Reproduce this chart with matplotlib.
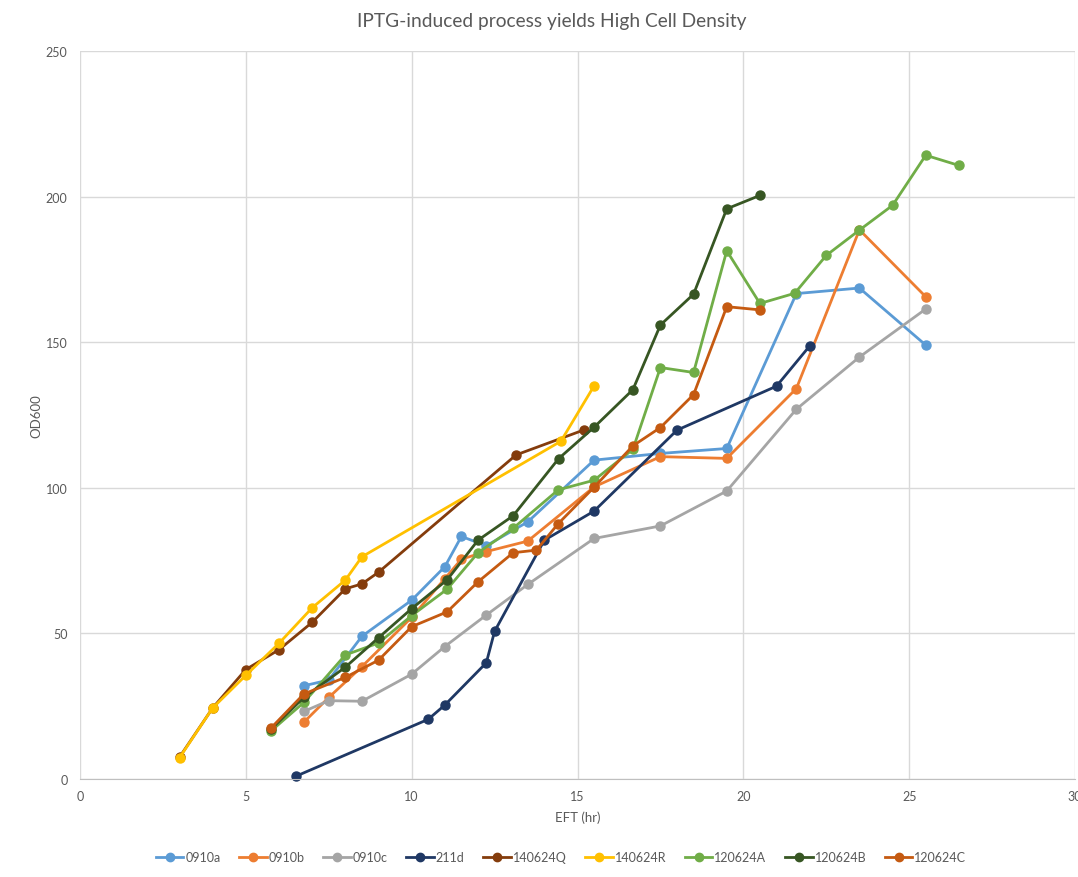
import matplotlib
matplotlib.use("Agg")
import matplotlib.pyplot as plt
from matplotlib.lines import Line2D

plt.rcParams['font.family'] = ['Lato', 'DejaVu Sans']

series_names = ["0910a", "0910b", "0910c", "211d", "140624Q", "140624R",
                "120624A", "120624B", "120624C"]
colors = ["#5B9BD5", "#ED7D31", "#A5A5A5", "#1F3864", "#843C0C", "#FFC000",
          "#70AD47", "#375623", "#C55A11"]

x_0910a = [6.75, 7.5, 8.5, 10, 11, 11.5, 12.25, 13.5, 15.5, 17.5, 19.5, 21.6, 23.5, 25.5]
y_0910a = [32.0, 34.0, 49.0, 61.4, 72.9, 83.3, 80.1, 88.3, 109.5, 111.8, 113.5, 166.7, 168.6, 149.0]

x_0910b = [6.75, 7.5, 8.5, 10, 11, 11.5, 12.25, 13.5, 15.5, 17.5, 19.5, 21.6, 23.5, 25.5]
y_0910b = [19.5, 28.0, 38.6, 55.5, 68.8, 75.5, 78.1, 81.7, 100.3, 110.7, 110.1, 134.1, 188.6, 165.6]

x_0910c = [6.75, 7.5, 8.5, 10, 11, 12.25, 13.5, 15.5, 17.5, 19.5, 21.6, 23.5, 25.5]
y_0910c = [23.2, 26.9, 26.7, 36.0, 45.5, 56.3, 66.8, 82.6, 86.9, 98.9, 127.0, 144.9, 161.4]

x_211d = [6.5, 10.5, 11, 12.25, 12.5, 14, 15.5, 18, 21, 22]
y_211d = [0.9, 20.5, 25.4, 39.9, 50.7, 82.0, 92.0, 119.8, 134.9, 148.7]

x_140624Q = [3, 4, 5, 6, 7, 8, 8.5, 9, 13.15, 15.2]
y_140624Q = [7.5, 24.4, 37.6, 44.4, 53.8, 65.3, 67.0, 71.0, 111.3, 119.9]

x_140624R = [3, 4, 5, 6, 7, 8, 8.5, 14.5, 15.5]
y_140624R = [7.3, 24.4, 35.6, 46.6, 58.8, 68.3, 76.3, 116.0, 135.0]

x_120624A = [5.75, 6.75, 8, 9, 10, 11.07, 12, 13.06, 14.42, 15.5, 16.67, 17.5, 18.5,
             19.5, 20.5, 21.55, 22.5, 23.5, 24.5, 25.5, 26.5]
y_120624A = [16.4, 26.3, 42.6, 46.7, 56.1, 65.2, 77.7, 86.1, 99.3, 102.6, 113.2, 141.3, 139.6,
             181.4, 163.3, 166.8, 179.8, 188.5, 197.0, 214.2, 210.7]

x_120624B = [5.75, 6.75, 8, 9, 10, 11.07, 12, 13.06, 14.43, 15.5, 16.67, 17.5, 18.5, 19.5, 20.5]
y_120624B = [17.0, 28.0, 38.4, 48.5, 58.5, 68.4, 82.0, 90.4, 110.0, 120.8, 133.7, 155.9, 166.5, 195.8, 200.4]

x_120624C = [5.75, 6.75, 8, 9, 10, 11.07, 12, 13.06, 13.76, 14.42, 15.5, 16.67, 17.5, 18.5, 19.5, 20.5]
y_120624C = [17.4, 29.2, 34.9, 40.8, 52.3, 57.4, 67.7, 77.7, 78.6, 87.7, 100.2, 114.4, 120.7, 132.0, 162.2, 161.1]

xs = [x_0910a, x_0910b, x_0910c, x_211d, x_140624Q, x_140624R, x_120624A, x_120624B, x_120624C]
ys = [y_0910a, y_0910b, y_0910c, y_211d, y_140624Q, y_140624R, y_120624A, y_120624B, y_120624C]

title = "IPTG-induced process yields High Cell Density"
x_label = "EFT (hr)"
y_label = "OD600"
x_ticks = [0, 5, 10, 15, 20, 25, 30]
y_ticks = [0, 50, 100, 150, 200, 250]

fig = plt.figure(figsize=(10.78, 8.78), dpi=100)
ax = fig.add_axes([80 / 1078, 1 - 780 / 878, 995 / 1078, (780 - 52) / 878])

text_color = "#595959"
for x, y, c, n in zip(xs, ys, colors, series_names):
    ax.plot(x, y, color=c, lw=2.0, marker='o', markersize=6.5, label=n,
            solid_joinstyle='round', clip_on=False)

ax.set_xlim(0, 30)
ax.set_ylim(0, 250)
ax.set_xticks(x_ticks)
ax.set_yticks(y_ticks)
ax.grid(True, color="#D9D9D9", lw=1.0)
ax.set_axisbelow(True)
for s in ['top', 'right', 'left']:
    ax.spines[s].set_visible(False)
ax.spines['bottom'].set_color("#BFBFBF")
ax.tick_params(axis='both', length=0, colors=text_color, labelsize=9)
ax.tick_params(axis='x', pad=8)
ax.tick_params(axis='y', pad=9)

fig.text(552 / 1078, 1 - 21 / 878, title, fontsize=13.8, color=text_color,
         ha='center', va='center')
ax.set_xlabel(x_label, fontsize=9.5, color=text_color, labelpad=6)
ax.set_ylabel(y_label, fontsize=9.5, color=text_color)
ax.yaxis.set_label_coords((42 - 80) / 995, 0.5)

handles = [Line2D([0], [0], color=c, lw=2.0, marker='o', markersize=6) for c in colors]
fig.legend(handles, series_names, loc='center', bbox_to_anchor=(561 / 1078, 1 - 858 / 878),
           ncol=9, frameon=False, fontsize=9, labelcolor=text_color,
           handlelength=2.2, handletextpad=0.15, columnspacing=1.5)

fig.savefig("out.png", dpi=100)
